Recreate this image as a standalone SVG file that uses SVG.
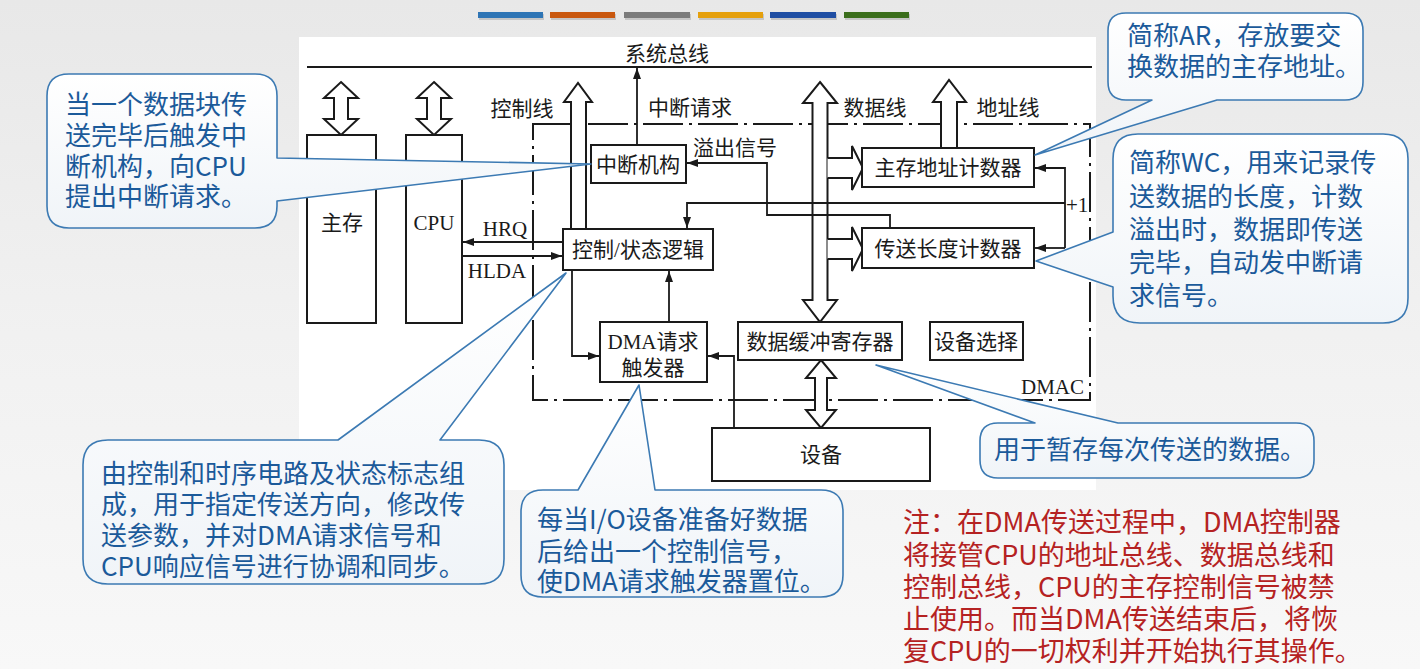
<svg xmlns="http://www.w3.org/2000/svg" width="1420" height="669" viewBox="0 0 1420 669">
<defs>
<linearGradient id="bg" x1="0" y1="0" x2="0" y2="1"><stop offset="0" stop-color="#e8e8e8"/><stop offset="0.5" stop-color="#f1f1f1"/><stop offset="1" stop-color="#f8f8f8"/></linearGradient>
<linearGradient id="cf" x1="0" y1="0" x2="0" y2="1"><stop offset="0" stop-color="#ffffff"/><stop offset="1" stop-color="#f0f4f8"/></linearGradient>
<marker id="ah" markerUnits="userSpaceOnUse" markerWidth="11" markerHeight="8" refX="11" refY="4" orient="auto"><path d="M0,0 L11,4 L0,8 Z" fill="#1a1a1a"/></marker>
</defs>
<style>
.box{fill:#fff;stroke:#1a1a1a;stroke-width:2}
.ln{fill:none;stroke:#1a1a1a;stroke-width:1.8}
.ar{marker-end:url(#ah)}
.fat{fill:#fff;stroke:#1a1a1a;stroke-width:2;stroke-linejoin:miter}
.dmac{fill:none;stroke:#1a1a1a;stroke-width:2;stroke-dasharray:40 6 3 6}
.lbl{font-family:"Liberation Serif","Noto Sans CJK SC",serif;font-size:21px;fill:#1a1a1a}
.c{text-anchor:middle}
.co{fill:url(#cf);stroke:#3c7ab3;stroke-width:1.6;stroke-linejoin:round}
.ct{font-family:"Noto Sans CJK SC","Noto Sans",sans-serif;font-size:26px;fill:#1b5a9a}
.note{font-family:"Noto Sans CJK SC","Noto Sans",sans-serif;font-size:27px;fill:#b52222}
.bar{stroke:none}
</style>
<rect x="0" y="0" width="1420" height="669" fill="url(#bg)"/>
<rect x="299" y="37" width="797" height="453" fill="#ffffff"/>
<g id="color-bars">
<rect x="479" y="14" width="65" height="6" fill="#000" opacity="0.15"/>
<rect x="478" y="12" width="65" height="6" class="bar" fill="#2f75b5"/>
<rect x="551" y="14" width="65" height="6" fill="#000" opacity="0.15"/>
<rect x="550" y="12" width="65" height="6" class="bar" fill="#c9580f"/>
<rect x="625" y="14" width="66" height="6" fill="#000" opacity="0.15"/>
<rect x="624" y="12" width="66" height="6" class="bar" fill="#7b7b7b"/>
<rect x="699" y="14" width="65" height="6" fill="#000" opacity="0.15"/>
<rect x="698" y="12" width="65" height="6" class="bar" fill="#e5a00d"/>
<rect x="771" y="14" width="66" height="6" fill="#000" opacity="0.15"/>
<rect x="770" y="12" width="66" height="6" class="bar" fill="#1f4ea3"/>
<rect x="845" y="14" width="65" height="6" fill="#000" opacity="0.15"/>
<rect x="844" y="12" width="65" height="6" class="bar" fill="#3b6e1c"/>
</g>

<g id="system-bus">
<line x1="307" y1="67" x2="1092" y2="67" class="ln" stroke-width="2"/>
<text x="667" y="61" class="lbl c">系统总线</text>
</g>

<g id="dmac-boundary">
<rect x="533" y="124" width="557" height="276" class="dmac"/>
<text x="1084" y="394" class="lbl" text-anchor="end">DMAC</text>
</g>

<g id="connectors">
<path d="M341,82 L358,98 L348,98 L348,119 L358,119 L341,135 L324,119 L334,119 L334,98 L324,98 Z" class="fat"/>
<path d="M434,82 L451,98 L441,98 L441,119 L451,119 L434,135 L417,119 L427,119 L427,98 L417,98 Z" class="fat"/>
<path d="M571,229 L571,102 L564,102 L578,83 L592,102 L586,102 L586,229" class="fat"/>
<path d="M820,82 L837,103 L827.5,103 L827.5,300 L837,300 L820,322 L803,300 L812.5,300 L812.5,103 L803,103 Z" class="fat"/>
<path d="M941,148 L941,102 L933,102 L949,80 L966,102 L957,102 L957,148" class="fat"/>
<path d="M821,360 L836,378 L827,378 L827,410 L836,410 L821,428 L806,410 L815,410 L815,378 L806,378 Z" class="fat"/>
<path d="M827.5,158 L852,158 L852,146 L863,168 L852,190 L852,178 L827.5,178" class="fat"/>
<path d="M827.5,239 L852,239 L852,227 L863,249 L852,271 L852,259 L827.5,259" class="fat"/>
<line x1="637" y1="145" x2="637" y2="68" class="ln ar"/>
<polyline points="890,228 890,215 767,215 767,163 687,163" class="ln ar"/>
<polyline points="1034,168 1065,168 1065,248" class="ln"/>
<line x1="1065" y1="168" x2="1035" y2="168" class="ln ar"/>
<line x1="1065" y1="248" x2="1035" y2="248" class="ln ar"/>
<polyline points="1065,203 687,203 687,228" class="ln ar"/>
<line x1="563" y1="242" x2="463" y2="242" class="ln ar"/>
<line x1="462" y1="256" x2="562" y2="256" class="ln ar"/>
<polyline points="572,270 572,356 599,356" class="ln ar"/>
<line x1="669" y1="322" x2="669" y2="271" class="ln ar"/>
<polyline points="734,428 734,356 708,356" class="ln ar"/>
<text x="522" y="116" class="lbl c">控制线</text>
<text x="690" y="115" class="lbl c">中断请求</text>
<text x="875" y="115" class="lbl c">数据线</text>
<text x="1008" y="115" class="lbl c">地址线</text>
<text x="735" y="155" class="lbl c">溢出信号</text>
<text x="1066" y="212" class="lbl">+1</text>
<text x="505" y="236" class="lbl c">HRQ</text>
<text x="497" y="278" class="lbl c">HLDA</text>
</g>

<g id="main-memory"><rect x="307" y="135" width="69" height="188" class="box"/><text x="342" y="230" class="lbl c">主存</text></g>
<g id="cpu"><rect x="406" y="135" width="56" height="188" class="box"/><text x="434" y="230" class="lbl c">CPU</text></g>
<g id="interrupt"><rect x="591" y="145" width="95" height="38" class="box"/><text x="638" y="172" class="lbl c">中断机构</text></g>
<g id="control-logic"><rect x="563" y="229" width="150" height="41" class="box"/><text x="638" y="257" class="lbl c">控制/状态逻辑</text></g>
<g id="ar-counter"><rect x="862" y="148" width="172" height="39" class="box"/><text x="948" y="175" class="lbl c">主存地址计数器</text></g>
<g id="wc-counter"><rect x="862" y="228" width="172" height="40" class="box"/><text x="948" y="256" class="lbl c">传送长度计数器</text></g>
<g id="dma-trigger"><rect x="600" y="322" width="107" height="60" class="box"/><text x="653" y="349" class="lbl c">DMA请求</text><text x="653" y="375" class="lbl c">触发器</text></g>
<g id="data-buffer"><rect x="738" y="322" width="164" height="38" class="box"/><text x="820" y="349" class="lbl c">数据缓冲寄存器</text></g>
<g id="device-select"><rect x="930" y="322" width="93" height="38" class="box"/><text x="976" y="349" class="lbl c">设备选择</text></g>
<g id="device"><rect x="712" y="428" width="218" height="53" class="box"/><text x="821" y="462" class="lbl c">设备</text></g>

<g id="callout-interrupt">
<path d="M69,74 H255 Q277,74 277,96 V158 L591,164 L277,201 V206 Q277,228 255,228 H69 Q47,228 47,206 V96 Q47,74 69,74 Z" class="co"/>
<text class="ct"><tspan x="65" y="114">当一个数据块传</tspan><tspan x="65" y="145">送完毕后触发中</tspan><tspan x="65" y="176">断机构，向CPU</tspan><tspan x="65" y="206">提出中断请求。</tspan></text>
</g>
<g id="callout-ar">
<path d="M1126,13 H1345 Q1363,13 1363,31 V82 Q1363,100 1345,100 H1217 L1035,155 L1152,100 H1126 Q1108,100 1108,82 V31 Q1108,13 1126,13 Z" class="co"/>
<text class="ct"><tspan x="1127" y="45">简称AR，存放要交</tspan><tspan x="1127" y="76">换数据的主存地址。</tspan></text>
</g>
<g id="callout-wc">
<path d="M1138,134 H1383 Q1408,134 1408,159 V298 Q1408,323 1383,323 H1140 Q1113,323 1113,296 V287 L1036,261 L1113,232 V159 Q1113,134 1138,134 Z" class="co"/>
<text class="ct"><tspan x="1129" y="172">简称WC，用来记录传</tspan><tspan x="1129" y="206">送数据的长度，计数</tspan><tspan x="1129" y="239">溢出时，数据即传送</tspan><tspan x="1129" y="272">完毕，自动发中断请</tspan><tspan x="1129" y="305">求信号。</tspan></text>
</g>
<g id="callout-control">
<path d="M108,440 H338 L566,273 L440,440 H479 Q504,440 504,465 V559 Q504,584 479,584 H108 Q83,584 83,559 V465 Q83,440 108,440 Z" class="co"/>
<text class="ct" font-size="26.5"><tspan x="101" y="483">由控制和时序电路及状态标志组</tspan><tspan x="101" y="514">成，用于指定传送方向，修改传</tspan><tspan x="101" y="545">送参数，并对DMA请求信号和</tspan><tspan x="101" y="576">CPU响应信号进行协调和同步。</tspan></text>
</g>
<g id="callout-trigger">
<path d="M543,490 H578 L639,385 L655,490 H821 Q843,490 843,512 V575 Q843,597 821,597 H543 Q521,597 521,575 V512 Q521,490 543,490 Z" class="co"/>
<text class="ct"><tspan x="537" y="529">每当I/O设备准备好数据</tspan><tspan x="537" y="561">后给出一个控制信号，</tspan><tspan x="537" y="591">使DMA请求触发器置位。</tspan></text>
</g>
<g id="callout-buffer">
<path d="M998,423 H1035 L876,365 L1118,423 H1296 Q1314,423 1314,441 V460 Q1314,478 1296,478 H998 Q980,478 980,460 V441 Q980,423 998,423 Z" class="co"/>
<text x="994" y="459" class="ct">用于暂存每次传送的数据。</text>
</g>

<g id="note">
<text class="note"><tspan x="903" y="532">注：在DMA传送过程中，DMA控制器</tspan><tspan x="903" y="565">将接管CPU的地址总线、数据总线和</tspan><tspan x="903" y="597">控制总线，CPU的主存控制信号被禁</tspan><tspan x="903" y="629">止使用。而当DMA传送结束后，将恢</tspan><tspan x="903" y="661">复CPU的一切权利并开始执行其操作。</tspan></text>
</g>
</svg>
